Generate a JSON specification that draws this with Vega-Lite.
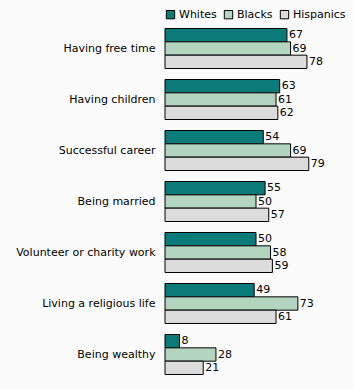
{
  "$schema": "https://vega.github.io/schema/vega-lite/v6.json",
  "width": 182,
  "height": 357,
  "autosize": "none",
  "padding": {"left": 165, "top": 23, "right": 7, "bottom": 9},
  "background": "#fbfbfb",
  "config": {"view": {"stroke": null}, "font": "DejaVu Sans"},
  "data": {"values": [
    {"item": "Having free time", "group": "Whites", "value": 67},
    {"item": "Having free time", "group": "Blacks", "value": 69},
    {"item": "Having free time", "group": "Hispanics", "value": 78},
    {"item": "Having children", "group": "Whites", "value": 63},
    {"item": "Having children", "group": "Blacks", "value": 61},
    {"item": "Having children", "group": "Hispanics", "value": 62},
    {"item": "Successful career", "group": "Whites", "value": 54},
    {"item": "Successful career", "group": "Blacks", "value": 69},
    {"item": "Successful career", "group": "Hispanics", "value": 79},
    {"item": "Being married", "group": "Whites", "value": 55},
    {"item": "Being married", "group": "Blacks", "value": 50},
    {"item": "Being married", "group": "Hispanics", "value": 57},
    {"item": "Volunteer or charity work", "group": "Whites", "value": 50},
    {"item": "Volunteer or charity work", "group": "Blacks", "value": 58},
    {"item": "Volunteer or charity work", "group": "Hispanics", "value": 59},
    {"item": "Living a religious life", "group": "Whites", "value": 49},
    {"item": "Living a religious life", "group": "Blacks", "value": 73},
    {"item": "Living a religious life", "group": "Hispanics", "value": 61},
    {"item": "Being wealthy", "group": "Whites", "value": 8},
    {"item": "Being wealthy", "group": "Blacks", "value": 28},
    {"item": "Being wealthy", "group": "Hispanics", "value": 21}
  ]},
  "encoding": {
    "y": {"field": "item", "type": "nominal", "sort": null,
      "scale": {"paddingInner": 0.216, "paddingOuter": 0.108},
      "axis": {"title": null, "domain": false, "ticks": false, "labelFontSize": 11, "labelColor": "#000", "labelPadding": 10, "labelFont": "DejaVu Sans"}},
    "yOffset": {"field": "group", "type": "nominal", "sort": ["Whites", "Blacks", "Hispanics"], "scale": {"paddingInner": 0, "paddingOuter": 0}},
    "x": {"field": "value", "type": "quantitative", "scale": {"domain": [0, 100]}, "axis": null}
  },
  "layer": [
    {
      "mark": {"type": "bar", "stroke": "#000", "strokeWidth": 1},
      "encoding": {
        "color": {"field": "group", "type": "nominal", "sort": ["Whites", "Blacks", "Hispanics"],
          "scale": {"domain": ["Whites", "Blacks", "Hispanics"], "range": ["#0a7b78", "#b3d5bf", "#dcdcdc"]},
          "legend": {"title": null, "orient": "none", "legendX": 0, "legendY": -14, "direction": "horizontal", "symbolType": "square", "symbolSize": 70, "symbolStrokeColor": "#000", "symbolStrokeWidth": 1, "labelFontSize": 11, "labelFont": "DejaVu Sans", "labelColor": "#000", "columnPadding": 5, "symbolOffset": 0, "labelOffset": 3}
        }
      }
    },
    {
      "mark": {"type": "text", "align": "left", "baseline": "middle", "dx": 2, "dy": 0, "fontSize": 11, "color": "#000"},
      "encoding": {"text": {"field": "value", "type": "quantitative"}}
    }
  ]
}
